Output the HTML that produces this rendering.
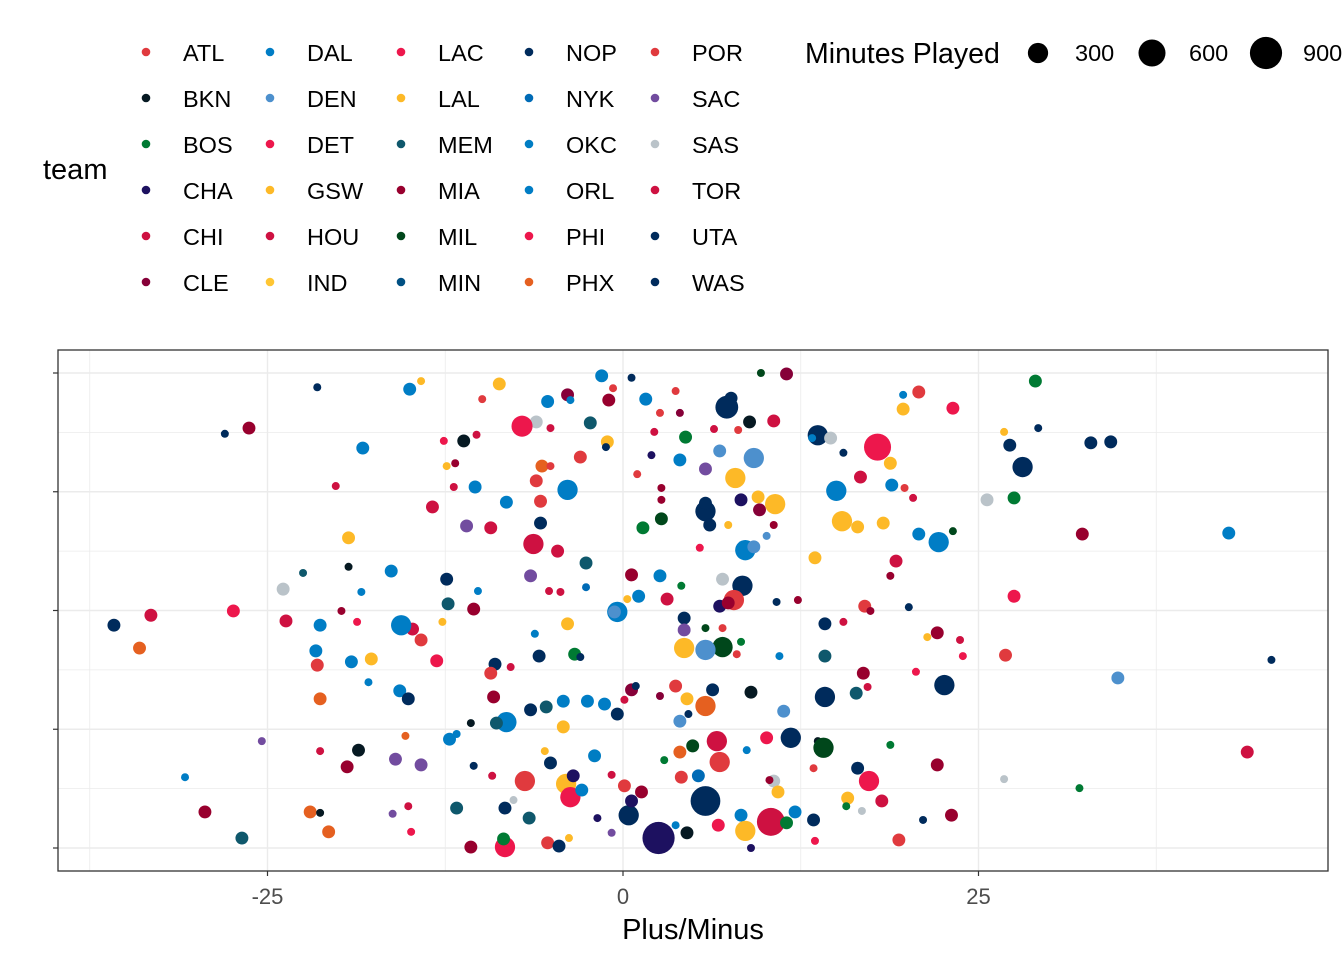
<!DOCTYPE html>
<html><head><meta charset="utf-8">
<style>
body{margin:0;background:#fff;}
svg text{font-family:"Liberation Sans",Arial,sans-serif;}
</style></head>
<body>
<svg id="chart" width="1344" height="960" xmlns="http://www.w3.org/2000/svg">
<rect width="1344" height="960" fill="#fff"/>
<g id="legend"></g>
<g id="sizeLegend"></g>
<g id="panel"></g>
</svg>
<script>
const xs=[-21.5,-15,-14.2,-8.7,-1.5,0.6,-0.7,-3.9,-5.3,-6.1,-7.1,-9.9,-1,-3.7,1.6,3.7,7.6,7.3,9.7,11.5,8.9,10.6,8.1,13.7,14.6,13.3,17.9,19.7,20.8,19.7,23.2,29,26.8,27.2,29.2,32.9,34.3,28.1,18.8,16.7,15.5,15,18.9,19.8,20.4,25.6,27.5,20.8,22.2,23.2,32.3,42.6,15.4,16.5,18.3,10.7,9.5,7.9,9.2,8.3,5.8,5.8,6.1,7.4,10.6,9.6,5.8,6.8,6.4,4,4.4,4,2.6,2.2,2,-1.1,-1.2,-2.3,-3,-5.1,-5.7,-5.1,-6.1,-3.9,-5.8,-8.2,-10.4,-11.9,-11.8,-11.2,-10.3,-12.6,-12.4,-13.4,-11,-9.3,-5.8,-6.3,-4.6,-2.6,-6.5,-5.2,-4.4,-2.6,0.6,2.6,4.1,1.1,3.1,-0.4,-0.6,0.3,7,8.4,7.8,6.8,7.4,10.8,12.3,4.3,4.3,5.8,7,8.3,7,5.8,4.3,8,11,14.2,15.5,17,17.4,20.1,18.8,19.2,13.5,27.5,22.1,21.4,23.7,23.9,26.9,20.6,22.6,16.9,17.2,16.4,14.2,14.2,11.3,9,6.3,5.8,4.5,4,4.6,3.7,2.6,0.6,0.9,0.1,-0.4,-1.3,-2.5,-4.2,-5.4,-4.2,-6.5,-8.2,-8.9,-9.1,-9,-7.9,-9.3,-5.9,-3.4,-3,-6.2,-3.9,-10.5,-12.3,-12.4,-10.2,-12.7,-14.2,-13.1,-14.8,-15.6,-16.3,-18.4,-19.3,-19.3,-18.3,-20.2,-22.5,-23.9,-19.8,-18.7,-21.3,-23.7,-27.4,-33.2,-35.8,-34,-21.6,-21.5,-19.1,-17.7,-17.9,-15.7,-15.1,-21.3,-10.7,-12.2,-11.7,-15.3,-18.6,-21.3,-25.4,-19.4,-16,-14.2,-10.5,-9.2,-11.7,-15.1,-16.2,-22,-21.3,-29.4,-30.8,-26.8,-20.7,-14.9,-10.7,-8.3,-8.4,-8.3,-7.7,-6.9,-5.1,-5.5,-6.6,-5.3,-4.5,-3.8,-4,-3.7,-3.5,-2.9,-2,-1.8,-0.8,-0.8,0.4,0.6,1.3,0.1,2.5,4.5,3.7,5.8,4.1,5.3,6.8,6.7,4,2.9,4.9,6.6,8.3,8.6,9,10.1,8.7,10.4,11.5,12.1,13.4,10.6,10.9,10.3,11.8,13.7,14.1,13.4,13.5,16.5,17.3,18.2,15.8,15.7,16.8,18.8,19.4,21.1,23.1,22.1,26.8,32.1,43.9,34.8,45.6,-28,-26.3,1.4,2.7,2.7,2.7,1,5.4,8.6,9.2,10.1];
const ys=[97,96.6,98.3,97.7,99.4,99,96.8,95.4,94,89.7,88.8,94.5,94.3,94.3,94.5,96.2,94.7,92.8,100,99.8,89.7,89.9,88,86.9,86.3,86.3,84.4,92.4,96,95.4,92.6,98.3,87.6,84.8,88.4,85.3,85.5,80.2,81,78.1,83.2,75.2,76.4,75.8,73.7,73.3,73.7,66.1,64.4,66.7,66.1,66.3,68.8,67.6,68.4,72.4,73.9,77.9,82.1,73.3,70.9,72.6,68,68,68,71.2,79.8,83.6,88.2,81.7,86.5,91.6,91.6,87.6,82.7,85.5,84.4,89.5,82.3,88.4,80.4,80.4,77.3,75.4,73,72.8,76,76,81,85.7,87,85.7,80.4,71.8,67.8,67.4,68.4,64,62.5,60,57.3,54.1,53.9,54.9,57.5,57.3,55.2,53,52.4,49.7,49.7,52.4,56.6,55.2,52.2,50.9,51.6,51.8,52.2,48.4,45.9,46.3,46.3,43.4,42.3,41.7,42.1,40.8,40.4,47.2,47.6,50.9,49.9,50.7,57.3,60.4,61.1,53,45.3,44.4,43.8,40.4,40.6,37.1,34.3,36.8,33.9,32.6,40.4,31.8,28.8,32.8,33.3,29.9,31.4,26.7,28.2,34.1,32,33.3,34.1,31.2,28.2,30.3,30.9,30.9,29.7,25.5,29.1,26.5,26.3,31.8,38.7,38.1,36.8,40.4,40.8,40.2,45.1,47.2,50.3,51.4,56.6,54.1,47.6,43.8,39.4,46.1,46.9,58.3,53.9,59.2,65.3,84.2,76.2,57.9,54.5,49.9,47.6,46.9,47.8,49.9,49,46.9,42.1,41.5,38.5,39.2,39.8,34.9,33.1,31.4,31.4,26.3,22.9,24,23.6,20.6,20.4,22.5,17.1,18.7,17.5,17.3,15.2,8.4,8.8,7.2,7.6,7.4,7.6,14.9,2.1,3.4,3.4,0.2,0.2,1.9,8.4,10.1,14.1,17.9,20.4,6.3,1.1,0.4,2.1,13.5,10.7,15.2,12.2,19.4,6.3,3.2,15.4,6.9,9.9,11.8,13.1,2.1,3.2,4.8,9.9,14.9,15.2,18.1,4.8,20.2,18.5,21.5,22.5,6.9,3.6,0,23.2,20.6,5.5,5.3,7.6,5.9,14.1,11.8,14.3,23.2,22.5,21.1,16.8,1.5,16.8,14.1,9.9,10.5,8.8,7.8,21.7,1.7,5.9,6.9,17.5,14.5,12.6,20.2,35.8,39.6,87.2,88.4,67.4,69.3,73.3,75.8,78.7,63.2,62.7,63.4,65.7];
const minutes=[
18,90,18,90,90,18,18,90,90,90,330,18,90,18,90,18,90,400,18,90,
90,90,18,300,90,18,600,90,90,18,90,90,18,90,18,90,90,300,90,90,
18,300,90,18,18,90,90,90,300,18,90,90,300,90,90,300,90,300,300,90,
300,90,90,18,18,90,90,90,18,90,90,18,18,18,18,90,18,90,90,18,
90,18,90,300,90,90,90,18,18,90,18,18,18,90,90,90,90,300,90,90,
90,18,18,18,90,90,18,90,90,300,90,18,90,300,300,90,90,18,18,90,
90,18,18,18,300,300,300,18,18,90,18,90,18,18,18,90,90,90,90,18,
18,18,90,18,300,90,18,90,90,300,90,90,90,300,90,90,18,90,18,90,
18,18,90,90,90,90,90,90,90,300,90,90,90,18,90,90,90,18,18,90,
90,90,90,18,18,90,90,90,300,90,18,18,90,90,18,18,90,18,18,90,
90,90,90,90,90,90,90,90,90,18,90,90,90,18,90,18,18,90,18,18,
90,90,90,18,18,90,18,18,90,18,90,18,90,90,18,90,300,90,90,18,
300,90,18,90,90,90,18,300,300,90,90,90,18,18,18,300,90,90,90,900,
90,18,750,90,90,300,90,90,18,90,300,90,300,18,90,18,650,90,90,90,
90,90,18,300,18,300,18,18,90,300,90,90,18,18,18,90,18,90,90,18,
18,90,90,18,18,90,90,90,18,18,18,18,300,90,18];
const teams=["NOP","DAL","GSW","GSW","OKC","NOP","ATL","CLE","DAL","SAS","LAC","ATL","MIA","OKC","DAL","ATL","NOP","NOP","MIL","CLE","BKN","TOR","ATL","NOP","SAS","DAL","LAC","GSW","POR","DAL","LAC","BOS","GSW","NOP","NOP","NOP","NOP","NOP","GSW","TOR","NOP","DAL","DAL","ATL","TOR","SAS","BOS","DAL","DAL","MIL","MIA","DAL","GSW","GSW","GSW","GSW","GSW","GSW","DEN","CHA","NOP","NOP","NOP","GSW","MIA","CLE","SAC","DEN","TOR","DAL","BOS","CLE","ATL","TOR","CHA","GSW","NOP","MEM","ATL","TOR","PHX","ATL","ATL","DAL","ATL","DAL","DAL","TOR","MIA","BKN","TOR","LAC","GSW","TOR","SAC","TOR","NOP","TOR","CHI","MEM","SAC","TOR","TOR","NYK","MIA","OKC","BOS","DAL","TOR","DAL","DEN","GSW","SAS","NOP","ATL","CHA","MIA","NOP","MIA","NOP","SAC","MIL","ATL","BOS","MIL","DEN","GSW","ATL","DAL","NOP","TOR","ATL","MIA","NOP","MIA","TOR","GSW","LAC","MIA","GSW","TOR","LAC","POR","LAC","NOP","MIA","TOR","MEM","MEM","NOP","DEN","BKN","NOP","PHX","GSW","DEN","NOP","ATL","CLE","CLE","NOP","TOR","NOP","DAL","DAL","DAL","MEM","GSW","NOP","DAL","MEM","MIA","NOP","TOR","ATL","NOP","BOS","NOP","OKC","GSW","MIA","MEM","NOP","DAL","GSW","ATL","LAC","TOR","DAL","DAL","DAL","BKN","GSW","DAL","TOR","MEM","SAS","MIA","LAC","DAL","CHI","LAC","TOR","NOP","PHX","DAL","ATL","DAL","GSW","DAL","DAL","NOP","PHX","BKN","DAL","DAL","PHX","BKN","TOR","SAC","MIA","SAC","SAC","NOP","TOR","MEM","TOR","SAC","PHX","BKN","MIA","DAL","MEM","PHX","LAC","MIA","LAC","BOS","NOP","SAS","ATL","NOP","GSW","MEM","ATL","NOP","GSW","GSW","LAC","CHA","DAL","OKC","CHA","SAC","TOR","NOP","CHA","MIA","ATL","CHA","BKN","DAL","NOP","ATL","NYK","ATL","LAC","PHX","BOS","MIL","CHI","DAL","GSW","CHA","LAC","DAL","TOR","BOS","DAL","NOP","SAS","GSW","MIA","NOP","BKN","MIL","ATL","LAC","NOP","LAC","TOR","GSW","BOS","SAS","BOS","ATL","NOP","MIA","MIA","SAS","BOS","TOR","DEN","NOP","NOP","MIA","BOS","MIL","MIA","MIA","ATL","LAC","DAL","DEN","DEN"];
const legendTeams=["ATL","BKN","BOS","CHA","CHI","CLE","DAL","DEN","DET","GSW","HOU","IND","LAC","LAL","MEM","MIA","MIL","MIN","NOP","NYK","OKC","ORL","PHI","PHX","POR","SAC","SAS","TOR","UTA","WAS"];
const xTicks=[-25,0,25];
const xMinor=[-37.5,-12.5,12.5,37.5];
const yTicks=[0,25,50,75,100];
const sizeBreaks=[300,600,900];
const colors={ATL:"#E03A3E",BKN:"#061922",BOS:"#007A33",CHA:"#1D1160",CHI:"#CE1141",CLE:"#860038",DAL:"#007DC5",DEN:"#4D90CD",DET:"#ED174C",GSW:"#FDB927",HOU:"#CE1141",IND:"#FFC633",LAC:"#ED174C",LAL:"#FDB927",MEM:"#0F586C",MIA:"#98002E",MIL:"#00471B",MIN:"#005083",NOP:"#002B5C",NYK:"#006BB6",OKC:"#007DC3",ORL:"#007DC5",PHI:"#ED174C",PHX:"#E56020",POR:"#E03A3E",SAC:"#724C9F",SAS:"#BAC3C9",TOR:"#CE1141",UTA:"#002B5C",WAS:"#002B5C"};
const NS="http://www.w3.org/2000/svg";
function mk(tag,attrs,parent){const e=document.createElementNS(NS,tag);for(const k in attrs)e.setAttribute(k,attrs[k]);parent.appendChild(e);return e;}
const PL=58,PR=1328,PT=350,PB=871;
const xScale=v=>623+v*14.22;
const yScale=v=>848-v*4.75;
const rScale=m=>2+0.47*Math.sqrt(m);
const panel=document.getElementById('panel');
xMinor.forEach(v=>{const l=mk('line',{x1:xScale(v),x2:xScale(v),y1:PT,y2:PB,stroke:'#ebebeb','stroke-width':0.8},panel);});
for(let i=0;i<yTicks.length-1;i++){const v=(yTicks[i]+yTicks[i+1])/2;const l=mk('line',{x1:PL,x2:PR,y1:yScale(v),y2:yScale(v),stroke:'#ebebeb','stroke-width':0.8},panel);}
xTicks.forEach(v=>{const l=mk('line',{x1:xScale(v),x2:xScale(v),y1:PT,y2:PB,stroke:'#ebebeb','stroke-width':1.4},panel);
const t=mk('line',{x1:xScale(v),x2:xScale(v),y1:PB,y2:PB+5,stroke:'#333','stroke-width':1.2},panel);
const tx=mk('text',{x:xScale(v),y:904,'text-anchor':'middle','font-size':22,fill:'#4d4d4d'},panel);tx.textContent=String(v);});
yTicks.forEach(v=>{const l=mk('line',{x1:PL,x2:PR,y1:yScale(v),y2:yScale(v),stroke:'#ebebeb','stroke-width':1.4},panel);
const t=mk('line',{x1:PL-5,x2:PL,y1:yScale(v),y2:yScale(v),stroke:'#333','stroke-width':1.2},panel);});
for(let i=0;i<xs.length;i++){const c=mk('circle',{cx:xScale(xs[i]),cy:yScale(ys[i]),r:rScale(minutes[i]),fill:colors[teams[i]]},panel);}
const border=mk('rect',{x:PL,y:PT,width:PR-PL,height:PB-PT,fill:'none',stroke:'#333','stroke-width':1.3},panel);
const xt=mk('text',{x:693,y:939,'text-anchor':'middle','font-size':29,fill:'#000'},panel);xt.textContent='Plus/Minus';
const lg=document.getElementById('legend');
const lt=mk('text',{x:43,y:179,'font-size':29,fill:'#000'},lg);lt.textContent='team';
const colX=[146,270,401,529,655];
legendTeams.forEach((t,i)=>{const col=Math.floor(i/6),row=i%6;const y=53+row*46;
const g=mk('g',{},lg);
mk('circle',{cx:colX[col],cy:y-1,r:4.3,fill:colors[t]},g);
const tx=mk('text',{x:colX[col]+37,y:y+8,'font-size':23.5,fill:'#000'},g);tx.textContent=t;});
const sl=document.getElementById('sizeLegend');
const st=mk('text',{x:805,y:63,'font-size':28.5,fill:'#000'},sl);st.textContent='Minutes Played';
const sX=[1038,1152,1266];
sizeBreaks.forEach((b,i)=>{const g=mk('g',{},sl);
mk('circle',{cx:sX[i],cy:53,r:rScale(b),fill:'#000'},g);
const tx=mk('text',{x:sX[i]+37,y:61,'font-size':23.5,fill:'#000'},g);tx.textContent=String(b);});
</script>
</body></html>
